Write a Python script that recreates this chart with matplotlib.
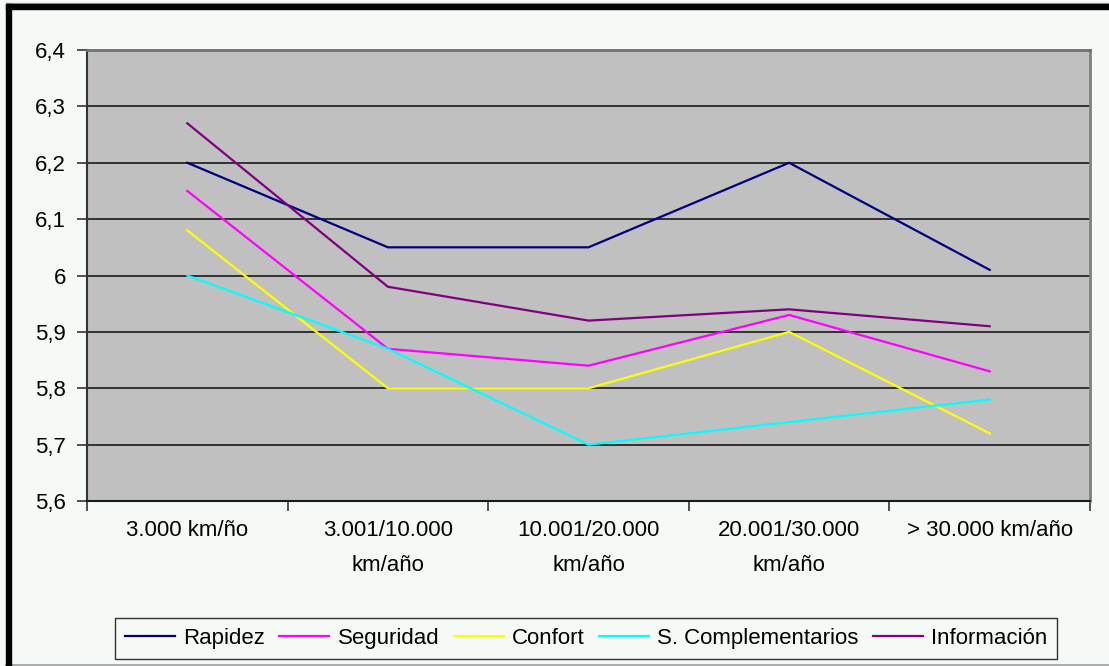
import numpy as np
import matplotlib.pyplot as plt
from matplotlib.patches import Rectangle
from matplotlib.lines import Line2D

# ---------------------------------
# Datos
# ---------------------------------

categorias = ['3.000 km/ño', '3.001/10.000\nkm/año', '10.001/20.000\nkm/año',
              '20.001/30.000\nkm/año', '> 30.000 km/año']

rapidez = [6.20, 6.05, 6.05, 6.20, 6.01]
seguridad = [6.15, 5.87, 5.84, 5.93, 5.83]
confort = [6.08, 5.80, 5.80, 5.90, 5.72]
complementarios = [6.00, 5.87, 5.70, 5.74, 5.78]
informacion = [6.27, 5.98, 5.92, 5.94, 5.91]

series = ['Rapidez', 'Seguridad', 'Confort', 'S. Complementarios', 'Información']
colores = ['#000080', '#FF00FF', '#FFFF00', '#00FFFF', '#800080']

yticks = [5.6, 5.7, 5.8, 5.9, 6.0, 6.1, 6.2, 6.3, 6.4]
ytick_labels = ['5,6', '5,7', '5,8', '5,9', '6', '6,1', '6,2', '6,3', '6,4']

# ---------------------------------
# Gráfico
# ---------------------------------

plt.rcParams['font.family'] = ['Liberation Sans', 'DejaVu Sans']

fondo = '#F6FAF6'
fig = plt.figure(figsize=(11.09, 6.66), dpi=100, facecolor=fondo)
ax = fig.add_axes([87/1109, 1 - 501/666, (1090 - 87)/1109, (501 - 50)/666])
ax.set_facecolor('#C0C0C0')

x = np.arange(len(categorias))
valores = [rapidez, seguridad, confort, complementarios, informacion]

# rejilla horizontal
for yv in yticks[1:-1]:
    ax.axhline(yv, color='#1a1a1a', linewidth=1.2, zorder=1)

for nombre, datos, color in zip(series, valores, colores):
    ax.plot(x, datos, color=color, linewidth=1.6, label=nombre, zorder=3)

ax.set_xlim(-0.5, len(categorias) - 0.5)
ax.set_ylim(5.6, 6.4)

ax.set_yticks(yticks)
ax.set_yticklabels(ytick_labels, fontsize=16)
ax.tick_params(axis='y', direction='out', length=7, width=1.2,
               color='#333333', pad=8)

# marcas del eje x entre categorías
ax.set_xticks(np.arange(-0.5, len(categorias), 1.0))
ax.set_xticklabels([])
ax.set_xticks(x, minor=True)
ax.set_xticklabels(categorias, minor=True, fontsize=16, linespacing=1.86,
                   va='top')
ax.tick_params(axis='x', which='major', direction='out', length=7,
               width=1.2, color='#333333')
ax.tick_params(axis='x', which='minor', length=0, pad=14)

# bordes
ax.spines['top'].set_color('#707070')
ax.spines['top'].set_linewidth(2)
ax.spines['right'].set_color('#808080')
ax.spines['right'].set_linewidth(2)
ax.spines['left'].set_color('#333333')
ax.spines['left'].set_linewidth(1.5)
ax.spines['bottom'].set_color('#1a1a1a')
ax.spines['bottom'].set_linewidth(1.5)

# leyenda
ley = fig.legend(
    loc='center',
    bbox_to_anchor=(586/1109, 1 - 638.5/666),
    ncol=5,
    fontsize=16,
    frameon=True,
    fancybox=False,
    handlelength=2.25,
    handletextpad=0.36,
    columnspacing=0.65,
    borderpad=0.45,
    borderaxespad=0,
)
ley.get_frame().set_edgecolor('black')
ley.get_frame().set_linewidth(1)
ley.get_frame().set_facecolor(fondo)

# marco exterior
fig.patches.append(Rectangle((6/1109, 0), 4.5/1109, 1 - 4/666,
                             transform=fig.transFigure, color='black', zorder=10))
fig.patches.append(Rectangle((6/1109, 1 - 9/666), 1 - 6/1109, 5/666,
                             transform=fig.transFigure, color='black', zorder=10))
fig.lines.append(Line2D([6/1109, 1], [1.5/666, 1.5/666], transform=fig.transFigure,
                        color='#A8A8A8', linewidth=2))
fig.lines.append(Line2D([6/1109, 1], [1 - 3/666, 1 - 3/666], transform=fig.transFigure,
                        color='#A8A8A8', linewidth=1))

fig.savefig('out.png', dpi=100, facecolor=fondo)
